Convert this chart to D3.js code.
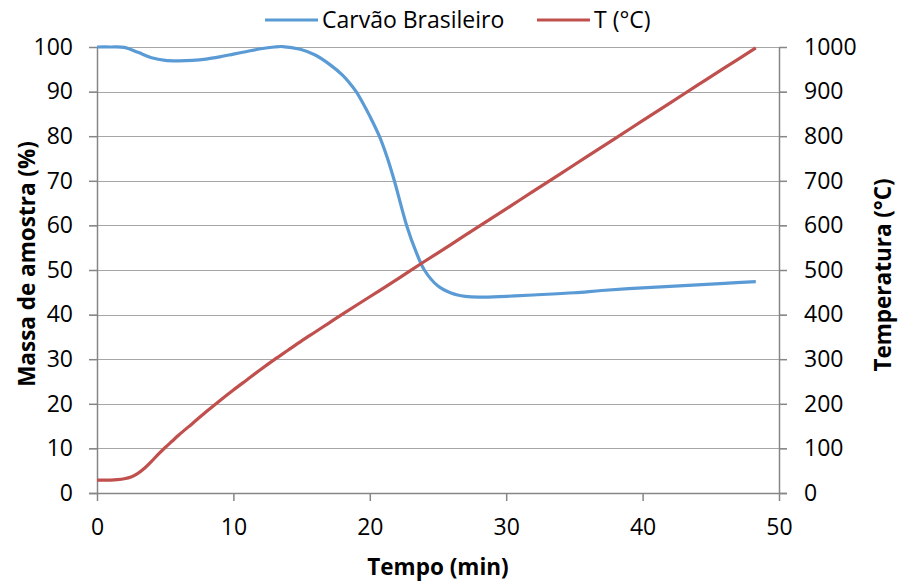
<!DOCTYPE html>
<html>
<head>
<meta charset="utf-8">
<script src="https://cdn.jsdelivr.net/npm/d3@7"></script>
<style>
  body { margin: 0; background: #fff; }
  svg text { font-family: "Open Sans", "Noto Sans", sans-serif; fill: #000; }
</style>
</head>
<body>
<div id="chart"></div>
<script>
// mass loss curve (% of sample) vs time (min)
const massTime = [0, 1, 2, 3, 4, 5, 6, 7, 8, 9, 10, 11, 12, 13, 13.6, 14.9, 16, 17.1, 18, 18.5, 19, 19.5, 20, 20.7, 21.3, 21.8, 22.7, 23.4, 24, 25, 26, 27, 28, 30, 32, 35, 37, 40, 43, 46, 48.3];
const massValues = [100, 100, 99.9, 98.8, 97.6, 97.0, 96.9, 97.0, 97.3, 97.8, 98.4, 99.0, 99.6, 100, 100.1, 99.5, 98.2, 96, 93.7, 92.0, 90, 87.4, 84.5, 80, 75, 70, 60, 54, 50, 46.4, 44.8, 44.1, 43.9, 44.1, 44.4, 44.9, 45.4, 46.0, 46.5, 47.0, 47.4];

// furnace temperature (°C) vs time (min)
const tempTime = [0, 1, 1.5, 2, 2.5, 3, 3.5, 4, 4.5, 5, 5.5, 6, 7, 8, 9, 10, 11, 12, 13, 14, 15, 16, 17, 18, 20, 22, 24, 26, 28, 30, 32, 34, 36, 38, 40, 42, 44, 46, 48.3];
const tempValues = [29, 29, 30, 32, 36, 44, 56, 71, 87, 102, 116, 130, 156, 182, 207, 231, 254, 277, 299, 320, 341, 361, 381, 401, 440, 479, 519, 558, 598, 637, 677, 716, 756, 795, 835, 874, 914, 953, 998];

const xTicks = [0, 10, 20, 30, 40, 50];
const massTicks = [0, 10, 20, 30, 40, 50, 60, 70, 80, 90, 100];
const tempTicks = [0, 100, 200, 300, 400, 500, 600, 700, 800, 900, 1000];

const seriesNames = ["Carvão Brasileiro", "T (°C)"];
const seriesColors = ["#5b9bd5", "#c0504d"];

const W = 898, H = 586;
const plot = { left: 97, right: 779, top: 47, bottom: 493 };

const svg = d3.select("#chart").append("svg")
  .attr("width", W)
  .attr("height", H);

const x = d3.scaleLinear().domain([0, 50]).range([plot.left, plot.right]);
const yMass = d3.scaleLinear().domain([0, 100]).range([plot.bottom, plot.top]);
const yTemp = d3.scaleLinear().domain([0, 1000]).range([plot.bottom, plot.top]);

// horizontal gridlines (run over both tick stubs)
svg.append("g")
  .selectAll("line")
  .data(massTicks.filter(d => d > 0))
  .enter()
  .append("line")
    .attr("x1", plot.left - 8)
    .attr("x2", plot.right + 8)
    .attr("y1", d => Math.round(yMass(d)) + 0.5)
    .attr("y2", d => Math.round(yMass(d)) + 0.5)
    .attr("stroke", "#a6a6a6")
    .attr("stroke-width", 1.2);

function styleAxis(g) {
  g.selectAll("path.domain").attr("stroke", "#868686").attr("stroke-width", 1.5);
  g.selectAll(".tick line").attr("stroke", "#868686").attr("stroke-width", 1.5);
  g.selectAll(".tick text").style("font-size", "23px").attr("fill", "#000");
}

svg.append("g")
  .attr("transform", `translate(${plot.left}, 0)`)
  .call(d3.axisLeft(yMass).tickValues(massTicks).tickSizeInner(8).tickSizeOuter(0).tickPadding(16))
  .call(styleAxis);

svg.append("g")
  .attr("transform", `translate(${plot.right}, 0)`)
  .call(d3.axisRight(yTemp).tickValues(tempTicks).tickFormat(d3.format("d"))
    .tickSizeInner(8).tickSizeOuter(0).tickPadding(17))
  .call(styleAxis);

const xAxis = svg.append("g")
  .attr("transform", `translate(0, ${plot.bottom})`)
  .call(d3.axisBottom(x).tickValues(xTicks).tickSizeInner(8).tickSizeOuter(0).tickPadding(18))
  .call(styleAxis);
// bottom axis line spans the tick stubs on both sides
xAxis.select("path.domain").attr("d", `M${plot.left - 8},0.5H${plot.right + 8}`);

// series lines
const massLine = d3.line()
  .x((d, i) => x(massTime[i]))
  .y(d => yMass(d))
  .curve(d3.curveCatmullRom.alpha(0.5));

const tempLine = d3.line()
  .x((d, i) => x(tempTime[i]))
  .y(d => yTemp(d))
  .curve(d3.curveCatmullRom.alpha(0.5));

svg.append("path")
  .datum(massValues)
  .attr("d", massLine)
  .attr("fill", "none")
  .attr("stroke", seriesColors[0])
  .attr("stroke-width", 3.2)
  .attr("stroke-linejoin", "round");

svg.append("path")
  .datum(tempValues)
  .attr("d", tempLine)
  .attr("fill", "none")
  .attr("stroke", seriesColors[1])
  .attr("stroke-width", 3.2)
  .attr("stroke-linejoin", "round");

// axis titles
svg.append("text")
  .attr("transform", "translate(35, 264) rotate(-90)")
  .attr("text-anchor", "middle")
  .style("font-size", "22.5px")
  .style("font-weight", "bold")
  .text("Massa de amostra (%)");

svg.append("text")
  .attr("transform", "translate(891, 275) rotate(-90)")
  .attr("text-anchor", "middle")
  .style("font-size", "22.5px")
  .style("font-weight", "bold")
  .text("Temperatura (°C)");

svg.append("text")
  .attr("x", 438)
  .attr("y", 575)
  .attr("text-anchor", "middle")
  .style("font-size", "22.5px")
  .style("font-weight", "bold")
  .text("Tempo (min)");

// legend
const legendX = [265, 537];
const legend = svg.append("g")
  .selectAll("g")
  .data(seriesNames)
  .enter()
  .append("g")
    .attr("transform", (d, i) => `translate(${legendX[i]}, 20)`);

legend.append("line")
  .attr("x1", 0).attr("x2", 53)
  .attr("y1", 0).attr("y2", 0)
  .attr("stroke", (d, i) => seriesColors[i])
  .attr("stroke-width", 3.2);

legend.append("text")
  .attr("x", 57)
  .attr("y", 8)
  .style("font-size", "23px")
  .text(d => d);
</script>
</body>
</html>
